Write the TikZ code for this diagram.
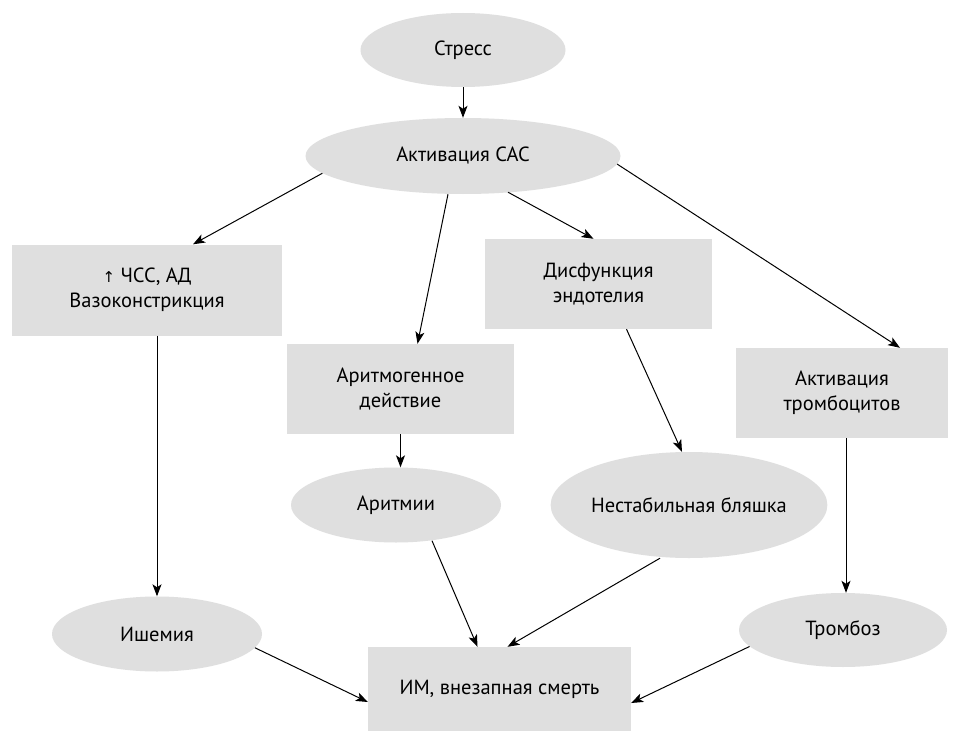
\documentclass[tikz,border=0pt]{standalone}
\usepackage{fontspec}
\setmainfont{PT Sans}
\newfontfamily\symfont{DejaVu Sans}
\usetikzlibrary{shapes.geometric,arrows.meta}
\definecolor{boxgray}{RGB}{223,223,223}
\tikzset{
  base/.style={fill=boxgray, draw=none, align=center, inner sep=0pt,
    font=\fontsize{20.5}{25}\selectfont, text=black},
  oval/.style={base, ellipse},
  rect/.style={base, rectangle},
  arr/.style={-{Stealth[length=12pt,width=9pt,inset=3pt]}, line width=1pt, black},
}
\begin{document}
\begin{tikzpicture}[x=1pt,y=-1pt]
\useasboundingbox[fill=white] (0,0) rectangle (953,733);

\node[oval, minimum width=205, minimum height=74] (stress) at (463,50) {Стресс};
\node[oval, minimum width=315, minimum height=76] (sas) at (463,156) {Активация САС};
\node[rect, minimum width=270, minimum height=91] (hr) at (147,290) {{\symfont\fontsize{15}{25}\selectfont ↑} ЧСС, АД\\Вазоконстрикция};
\node[rect, minimum width=227, minimum height=90] (arg) at (400.5,389) {Аритмогенное\\действие};
\node[rect, minimum width=227, minimum height=90] (dysf) at (598.5,284) {Дисфункция\\эндотелия};
\node[rect, minimum width=212, minimum height=90] (plt) at (842,393) {Активация\\тромбоцитов};
\node[oval, minimum width=210, minimum height=75] (arrh) at (396,505) {Аритмии};
\node[oval, minimum width=262, minimum height=106] (plaque) at (689,505) {Нестабильная бляшка};
\node[oval, minimum width=210, minimum height=75] (isch) at (157,634) {Ишемия};
\node[oval, minimum width=208, minimum height=74] (thromb) at (843,630) {Тромбоз};
\node[rect, minimum width=263, minimum height=84] (mi) at (499.5,689) {ИМ, внезапная смерть};

\draw[arr] (stress.south) -- (sas.north);
\draw[arr] (sas.187.6) -- ([xshift=46pt]hr.north);
\draw[arr] ([xshift=-15pt]sas.south) -- ([xshift=17pt]arg.north);
\draw[arr] ([xshift=45pt,yshift=2pt]sas.south) -- ([xshift=-5pt]dysf.north);
\draw[arr] (sas.-3) -- ([xshift=58pt]plt.north);
\draw[arr] (hr.south -| isch.north) -- (isch.north);
\draw[arr] (arg.south) -- (arg.south |- arrh.north);
\draw[arr] ([xshift=28pt]dysf.south) -- ([xshift=-7pt]plaque.north);
\draw[arr] ([xshift=4pt]plt.south) -- ([xshift=4pt]plt.south |- thromb.north);
\draw[arr] ([xshift=36pt,yshift=2pt]arrh.south) -- ([xshift=-22pt]mi.north);
\draw[arr] ([xshift=-29pt]plaque.south) -- ([xshift=8pt]mi.north);
\draw[arr] (isch.-8) -- ([yshift=-13pt]mi.west);
\draw[arr] (thromb.190) -- ([yshift=-14pt]mi.east);
\end{tikzpicture}
\end{document}
